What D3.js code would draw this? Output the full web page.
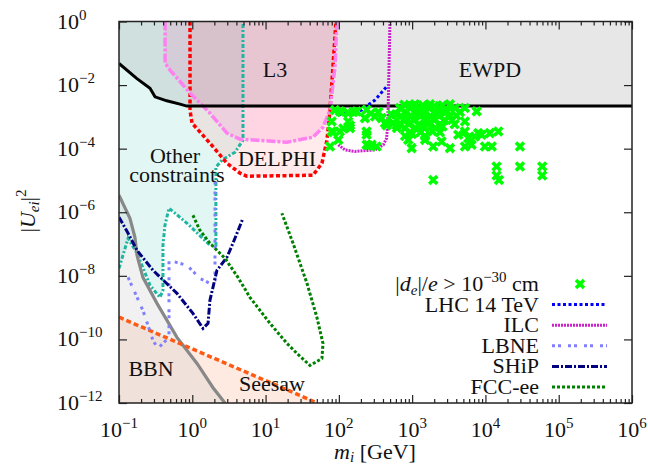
<!DOCTYPE html>
<html>
<head>
<meta charset="utf-8">
<script src="https://cdn.jsdelivr.net/npm/d3@7"></script>
<style>
  body { margin: 0; background: #fff; }
  svg text { font-family: "Liberation Serif", "DejaVu Serif", serif; font-size: 22px; fill: #111; }
</style>
</head>
<body>
<svg id="chart" width="648" height="464"></svg>
<script>
// ---- data: [mass in GeV, |U_ei|^2] ----
var ewpdLine = [[0.1,4.8e-2],[0.174,1.63e-2],[0.265,7.9e-3],[0.31,4.28e-3],[0.448,3.2e-3],[0.679,2.52e-3],[0.84,2.18e-3],[1e6,2.18e-3]];
var otherBound = [[0.1,1.72e-8],[0.133,1.52e-7],[0.176,5.12e-8],[0.265,5.02e-9],[0.362,2.1e-9],[0.398,3.49e-9],[0.398,9.14e-8],[0.424,3.9e-7],[0.481,1.34e-6],[0.847,4.51e-7],[1.74,9.14e-8],[2.1,9.14e-8],[2.1,2.61e-5],[2.54,4.35e-5],[3.83,7.76e-5],[4.92,1.85e-4],[4.92,1]];
var bbnLine = [[0.1,3.43e-6],[0.141,6.47e-7],[0.165,1.63e-7],[0.176,4.42e-8],[0.212,8.97e-9],[0.33,1.36e-9],[0.618,1.16e-10],[1.16,1.75e-11],[1.91,3.08e-12],[2.79,1e-12]];
var seesawLine = [[0.1,5.0e-10],[51,1e-12]];
var delphiLine = [[0.931,1],[0.931,1.63e-3],[0.991,6.36e-4],[1.74,1.49e-4],[2.97,3.49e-5],[4.48,1.69e-5],[5.57,1.36e-5],[44.4,1.46e-5],[58.8,3.49e-5],[68.8,1.85e-4],[75.7,1.63e-3],[83.0,3.69e-2],[91.3,1]];
var l3Line = [[0.425,1],[0.425,4.93e-2],[0.497,2.97e-2],[0.931,5.6e-3],[1.74,1.31e-3],[2.97,3.08e-4],[4.48,1.99e-4],[19.6,1.6e-4],[44.4,2.3e-4],[60.7,4.75e-4],[75.7,1.63e-3],[88.5,3.69e-2],[94.3,1]];
var lhcLine = [[97.3,1.14e-3],[151,1.41e-3],[207,1.63e-3],[249,2.35e-3],[311,3.37e-3],[468,1e-2]];
var ilcLine = [[98.2,1.32e-4],[121,9.17e-5],[166,8.17e-5],[311,9.17e-5],[404,1.32e-4],[449,2.14e-4],[463,5.62e-4],[472,2.4e-3],[498,1]];
var lbneLine = [[0.133,8.97e-9],[0.212,8.18e-10],[0.291,9.3e-11],[0.34,5.2e-11],[0.398,7.5e-11],[0.481,1.16e-10],[0.481,3.08e-8],[0.847,2.14e-8],[1.27,8.3e-9],[1.74,5.8e-9],[2.04,7.2e-9],[2.04,1.02e-5]];
var shipLine = [[0.1,6.96e-7],[0.133,2.18e-7],[0.176,6.36e-8],[0.291,1.49e-8],[0.618,2.81e-9],[1.02,6.59e-10],[1.40,2.22e-10],[1.64,3.19e-10],[1.74,1.69e-9],[2.17,1.49e-8],[2.97,3.83e-8],[3.59,1.06e-7],[4.92,6.47e-7]];
var fccLine = [[1.02,8.05e-7],[1.27,2.71e-7],[1.74,1.06e-7],[2.79,3.56e-8],[4.2,8.97e-9],[6.12,2.1e-9],[11.5,3.19e-10],[19.6,7.48e-11],[26.8,3.62e-11],[40.3,1.52e-11],[58.8,2.52e-11],[60.7,7.48e-11],[50.2,4.93e-10],[36.7,5.81e-9],[23.7,1.06e-7],[16.7,9.31e-7]];
var edmPoints = [
  [2.96e4,1.17e-4],[1.42e4,2.75e-5],[2.96e4,2.75e-5],[5.96e4,2.75e-5],[5.96e4,1.43e-5],[1.42e4,1.43e-5],[1.53e4,1.04e-5],[1.94e3,1.04e-5],
  [75.7,1.17e-4],[984,1.04e-4],[1.94e3,1.17e-4],[3.28e3,1.04e-4],[5.25e3,1.17e-4],[6.48e3,1.32e-4],[9.84e3,1.17e-4],[1.22e4,1.17e-4],
  [1.5e4,3.48e-4],[1.15e4,3.08e-4],[8.87e3,2.72e-4],[7.98e3,3.08e-4],[7.19e3,2.42e-4],[5.83e3,2.14e-4],[4.26e3,2.72e-4],[5.25e3,3.48e-4],
  [2.52e3,1.69e-4],[1.5e3,1.89e-4],[885,1.89e-4],[7.59e3,1.49e-3],[5.25e3,7.19e-4],[239,3.48e-4],[239,2.72e-4],[239,1.32e-4],[280,1.32e-4],
  [328,1.17e-4],[79.8,3.48e-4],[103,3.48e-4],[98.2,1.89e-4],[79.8,7.19e-4],[134,7.19e-4],[142,4.42e-4],[103,1.49e-3],[134,1.31e-3],
  [227,9.14e-4],[311,1.03e-3],[384,9.14e-4],[426,6.36e-4],[552,6.36e-4],[525,1.16e-3],[239,1.67e-3],[175,1.49e-3],
  [88.5,1.63e-3],[109,1.42e-3],[115,4.33e-4],[84,3.3e-4],[142,5.4e-4],[157,1.42e-3],[252,1.27e-4],[273,1.28e-3],[345,1.42e-3],[449,5.4e-4],[615,5.4e-4],
  [682,1.89e-3],[700,1.06e-3],[690,5.9e-4],[780,2.4e-3],[820,1.4e-3],[760,7.9e-4],[800,4.4e-4],[930,1.9e-3],[960,1.1e-3],[900,6e-4],
  [940,3.3e-4],[1090,2.5e-3],[1100,1.4e-3],[1050,7.9e-4],[1120,4.4e-4],[1280,1.9e-3],[1300,1.06e-3],[1250,5.9e-4],[1300,3.3e-4],
  [1500,1.4e-3],[1520,7.9e-4],[1480,4.4e-4],[1750,2.5e-3],[1700,1.89e-3],[1780,1.06e-3],[1720,5.9e-4],[2050,1.41e-3],[2000,7.9e-4],
  [2100,4.4e-4],[2390,1.89e-3],[2350,1.06e-3],[2400,5.9e-4],[2800,1.41e-3],[2750,7.9e-4],[3280,2.5e-3],[3300,1.06e-3],[3840,1.89e-3],
  [3800,5.9e-4],[4490,1.41e-3],[5250,1.89e-3],[800,2.5e-4],[1500,2.5e-4],[2390,3.3e-4],[600,1.2e-3],[620,4.5e-4],
  [1000,2.2e-3],[1400,2.3e-3],[2000,2.2e-3],[2600,2.3e-3],[1200,1.2e-3],[1600,9e-4],[2200,1.2e-3],[2600,5e-4],
  [3000,1.5e-3],[3500,8e-4],[4000,1.1e-3],[1900,3.5e-4],[1000,2.9e-4],[860,8.5e-4],[1400,5.2e-4]
];
var xTickExps = [-1,0,1,2,3,4,5,6];
var yTickExps = [0,-2,-4,-6,-8,-10,-12];
var legendNames = ["LHC 14 TeV","ILC","LBNE","SHiP","FCC-ee"];

// ---- layout ----
var svg = d3.select("#chart");
var pLeft = 119, pRight = 632, pTop = 21.5, pBottom = 403;
var x = d3.scaleLog().domain([0.1, 1e6]).range([pLeft, pRight]);
var y = d3.scaleLog().domain([1e-12, 1]).range([pBottom, pTop]);

svg.append("clipPath").attr("id","plotclip").append("rect")
  .attr("x",pLeft).attr("y",pTop).attr("width",pRight-pLeft).attr("height",pBottom-pTop);

var line = d3.line().x(function(d){ return x(d[0]); }).y(function(d){ return y(d[1]); });
var plot = svg.append("g").attr("clip-path","url(#plotclip)");

function area(pts, extra){ return line(pts.concat(extra)) + "Z"; }

// shaded regions
plot.append("path").attr("d", area(otherBound, [[0.1,1]])).attr("fill","#9fe3da").attr("fill-opacity",0.3);
plot.append("path").attr("d", area(seesawLine, [[0.1,1e-12]])).attr("fill","#fbb99a").attr("fill-opacity",0.3);
plot.append("path").attr("d", area(bbnLine, [[0.1,1e-12]])).attr("fill","#c8c8c8").attr("fill-opacity",0.25);
plot.append("path").attr("d", area(delphiLine, [])).attr("fill","#ff9999").attr("fill-opacity",0.2);
plot.append("path").attr("d", area(l3Line, [])).attr("fill","#ff88cc").attr("fill-opacity",0.22);
plot.append("path").attr("d", area(ewpdLine, [[1e6,1],[0.1,1]])).attr("fill","#888").attr("fill-opacity",0.2);

function curve(pts, color, width, dash){
  plot.append("path").attr("d", line(pts)).attr("fill","none")
    .attr("stroke",color).attr("stroke-width",width).attr("stroke-dasharray",dash);
}
curve(otherBound, "#1fb5a0", 3, "4,2,2,2");
curve(bbnLine, "#888888", 3.2, null);
curve(seesawLine, "#ff5a14", 3.5, "5,3");
curve(delphiLine, "#ff0000", 3.5, "4,2.5");
curve(l3Line, "#ff80f0", 3.5, "9,2,3,2");
curve(ewpdLine, "#000", 3, null);

// projected sensitivities
var styles = [
  {pts: lhcLine,  color: "#0000ff", width: 3, dash: "3,2.5"},
  {pts: ilcLine,  color: "#cc22cc", width: 3, dash: "2,1"},
  {pts: lbneLine, color: "#8080ff", width: 3, dash: "3,3,3,7"},
  {pts: shipLine, color: "#000080", width: 3, dash: "7,2,2,2"},
  {pts: fccLine,  color: "#008000", width: 3, dash: "3,2"}
];
styles.forEach(function(s){ curve(s.pts, s.color, s.width, s.dash); });

// EDM scatter
var cross = "M-4,-4L4,4M-4,4L4,-4";
plot.selectAll("path.pt").data(edmPoints).enter().append("path")
  .attr("class","pt").attr("d",cross)
  .attr("transform", function(d){ return "translate(" + x(d[0]) + "," + y(d[1]) + ")"; })
  .attr("stroke","#00ff00").attr("stroke-width",3.6).attr("fill","none");

// region labels
function label(txt, px, py){
  svg.append("text").attr("x",px).attr("y",py).attr("text-anchor","middle").text(txt);
}
label("L3", 275, 77);
label("EWPD", 490, 77);
label("DELPHI", 277, 166);
label("Other", 175, 163);
label("constraints", 177, 182);
label("BBN", 151, 376);
label("Seesaw", 272, 391);

// frame and ticks
var majorX = xTickExps.map(function(e){ return Math.pow(10,e); });
var minorX = [];
for (var e = -1; e < 6; e++) for (var k = 2; k < 10; k++) minorX.push(k*Math.pow(10,e));
var majorY = yTickExps.map(function(e){ return Math.pow(10,e); });

function ticks(axisFn, scale, vals, size, tx, ty){
  var g = svg.append("g").attr("transform","translate(" + tx + "," + ty + ")")
    .call(axisFn(scale).tickValues(vals).tickSize(size).tickFormat(""));
  g.select(".domain").remove();
  g.selectAll("line").attr("stroke","#222").attr("stroke-width",1.2);
}
ticks(d3.axisBottom, x, majorX, -8, 0, pBottom);
ticks(d3.axisBottom, x, minorX, -4, 0, pBottom);
ticks(d3.axisTop, x, majorX, -8, 0, pTop);
ticks(d3.axisTop, x, minorX, -4, 0, pTop);
ticks(d3.axisLeft, y, majorY, -8, pLeft, 0);
ticks(d3.axisRight, y, majorY, -8, pRight, 0);

svg.append("rect").attr("x",pLeft).attr("y",pTop).attr("width",pRight-pLeft).attr("height",pBottom-pTop)
  .attr("fill","none").attr("stroke","#222").attr("stroke-width",1.5);

function powLabel(sel, exp){
  sel.append("tspan").text("10");
  sel.append("tspan").attr("dy",-9).attr("font-size","15px").text(exp < 0 ? "\u2212" + (-exp) : String(exp));
}
xTickExps.forEach(function(e){
  var t = svg.append("text").attr("x", x(Math.pow(10,e))).attr("y",437).attr("text-anchor","middle");
  powLabel(t, e);
});
yTickExps.forEach(function(e){
  var t = svg.append("text").attr("x", 57).attr("y", y(Math.pow(10,e)) + 7);
  powLabel(t, e);
});

// axis titles
var xt = svg.append("text").attr("x",375).attr("y",459).attr("text-anchor","middle");
xt.append("tspan").attr("font-style","italic").text("m");
xt.append("tspan").attr("font-style","italic").attr("font-size","15px").attr("dy",3).text("i");
xt.append("tspan").attr("dy",-3).text(" [GeV]");

var yt = svg.append("text").attr("transform","translate(35,211) rotate(-90)").attr("text-anchor","middle");
yt.append("tspan").text("|");
yt.append("tspan").attr("font-style","italic").text("U");
yt.append("tspan").attr("font-style","italic").attr("font-size","15px").attr("dy",4).text("ei");
yt.append("tspan").attr("dy",-4).text("|");
yt.append("tspan").attr("font-size","15px").attr("dy",-9).text("2");

// legend
var lgX = 539, lgY0 = 291, lgStep = 20.6;
var lt = svg.append("text").attr("x",lgX).attr("y",lgY0).attr("text-anchor","end");
lt.append("tspan").text("|");
lt.append("tspan").attr("font-style","italic").text("d");
lt.append("tspan").attr("font-style","italic").attr("font-size","15px").attr("dy",4).text("e");
lt.append("tspan").attr("dy",-4).text("|/");
lt.append("tspan").attr("font-style","italic").text("e");
lt.append("tspan").text(" > 10");
lt.append("tspan").attr("font-size","15px").attr("dy",-9).text("\u221230");
lt.append("tspan").attr("dy",9).text(" cm");
svg.append("path").attr("d",cross).attr("transform","translate(580," + (lgY0 - 7) + ")")
  .attr("stroke","#00ff00").attr("stroke-width",3.6).attr("fill","none");

styles.forEach(function(s, i){
  var yy = lgY0 + lgStep*(i+1);
  svg.append("text").attr("x",lgX).attr("y",yy).attr("text-anchor","end").text(legendNames[i]);
  svg.append("line").attr("x1",552).attr("x2",607).attr("y1",yy-7).attr("y2",yy-7)
    .attr("stroke",s.color).attr("stroke-width",s.width).attr("stroke-dasharray",s.dash);
});
</script>
</body>
</html>
